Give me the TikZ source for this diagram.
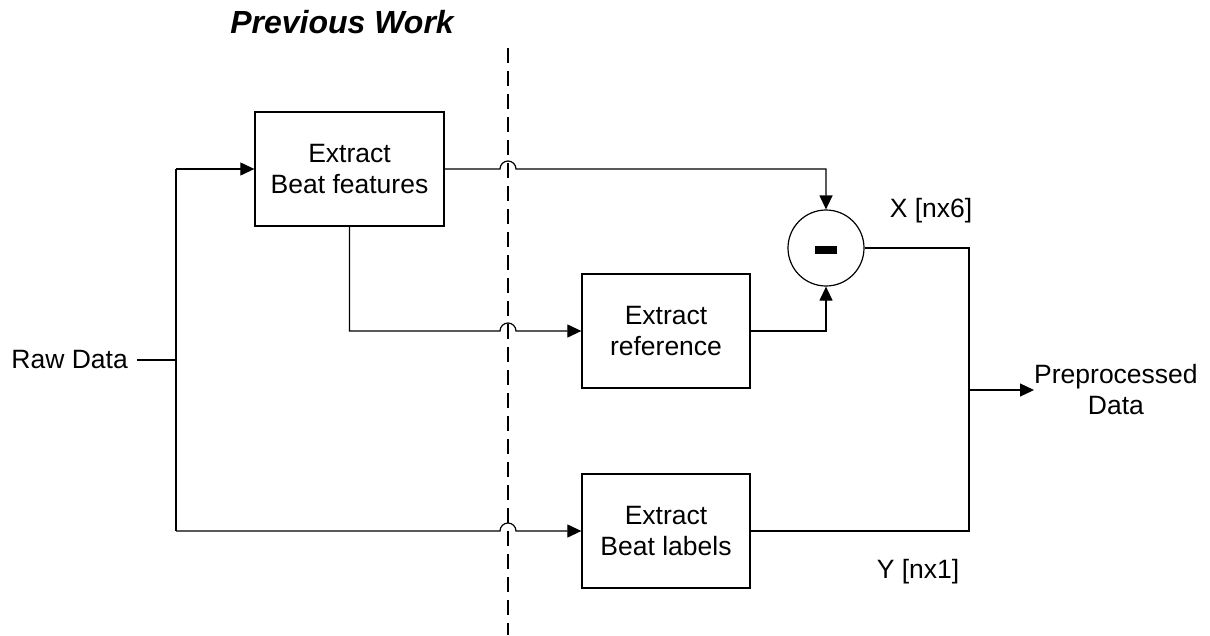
\documentclass[tikz,border=0pt]{standalone}
\usepackage{fontspec}
\setmainfont{Liberation Sans}
\usetikzlibrary{arrows.meta,calc}
\begin{document}
\begin{tikzpicture}[x=1pt,y=-1pt,
  every node/.style={font=\fontsize{26.5}{31}\selectfont},
  block/.style={draw,line width=1.3pt,align=center,inner sep=0pt},
  wire/.style={line width=1.2pt},
  arr/.style={wire,-{Triangle[length=14pt,width=13pt]}},
  lbl/.style={inner sep=0pt}]
\useasboundingbox (0,0) rectangle (1210,635);

% title and the dashed divider
\node[lbl,font=\fontsize{32}{36}\selectfont\bfseries\itshape] (title) at (342,22) {Previous Work};
\coordinate (dtop) at (508,48);
\coordinate (dbot) at (508,635);
\draw[line width=2pt,dash pattern=on 15pt off 8pt] (dtop) -- (dbot);

% processing blocks
\node[block,minimum width=189pt,minimum height=114pt] (feat) at (349.5,169) {Extract\\Beat features};
\node[block,minimum width=168pt,minimum height=114pt] (ref) at (666,331) {Extract\\reference};
\node[block,minimum width=168pt,minimum height=114pt] (lab) at (666,531) {Extract\\Beat labels};
\node[draw,circle,line width=1.2pt,minimum size=76pt,inner sep=0pt] (sub) at (826,248) {};
\fill ($(sub.center)+(-11,-2)$) rectangle ($(sub.center)+(11,6)$);

% labels
\node[lbl,anchor=east] (raw) at (128,360) {Raw Data};
\node[lbl] (xl) at (931,211) {X [nx6]};
\node[lbl] (yl) at (918,572) {Y [nx1]};
\node[lbl,anchor=west,align=center] (out) at (1034,390) {Preprocessed\\Data};

% junction points
\coordinate (split) at (176,360);
\coordinate (top) at (176,169);
\coordinate (bot) at (176,531);
\coordinate (merge) at (969,390);
\coordinate (mtop) at (969,248);
\coordinate (mbot) at (969,531);

% input fan-out
\draw[wire] (raw.east) ++(9,0) -- (split);
\draw[wire] (top) -- (bot);
\draw[arr] (top) -- (feat.west);

% wires crossing the divider with a hop
\draw[arr] (feat.east) -- (500,169) arc[start angle=180,end angle=360,radius=8] -- (826,169) -- (sub.north);
\draw[arr] (feat.south) -- (349.5,331) -- (500,331) arc[start angle=180,end angle=360,radius=8] -- (ref.west);
\draw[arr] (bot) -- (500,531) arc[start angle=180,end angle=360,radius=8] -- (lab.west);

% reference into the subtractor
\draw[arr] (ref.east) -| (sub.south);

% merge of both outputs
\draw[wire] (sub.east) -- (mtop) -- (mbot) -- (lab.east);
\draw[arr] (merge) -- (merge -| out.west);
\end{tikzpicture}
\end{document}
